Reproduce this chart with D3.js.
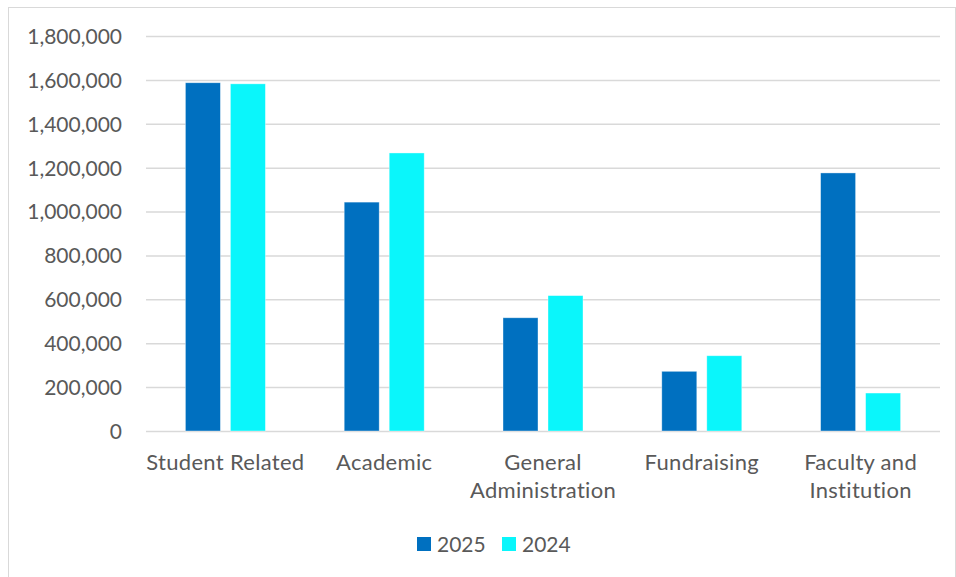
<!DOCTYPE html>
<html><head><meta charset="utf-8">
<script src="https://cdn.jsdelivr.net/npm/d3@7"></script>
<style>body{margin:0;background:#fff;} svg{display:block;} text{font-family:Lato,"Open Sans",sans-serif;fill:#595959;}</style>
</head><body><svg id="c" width="956" height="577"></svg>
<script>
const categories = ["Student Related","Academic","General Administration","Fundraising","Faculty and Institution"];
const categoryLines = [["Student Related"],["Academic"],["General","Administration"],["Fundraising"],["Faculty and","Institution"]];
const seriesNames = ["2025","2024"];
const values2025 = [1587000,1043000,516000,272000,1176000];
const values2024 = [1582000,1267000,617000,343000,173000];
const yTicks = [0,200000,400000,600000,800000,1000000,1200000,1400000,1600000,1800000];
const colors = ["#0070C0","#0AF6FB"];

(function(){
const svg = d3.select("#c");
svg.append("rect").attr("x",8.5).attr("y",7.5).attr("width",947).attr("height",575)
  .attr("fill","none").attr("stroke","#d9d9d9").attr("stroke-width",1);

const pL=146, pR=940, pT=36, pB=431;
const FS = 22;
const x = d3.scaleBand().domain(categories).range([pL,pR]).paddingInner(0).paddingOuter(0);
const y = d3.scaleLinear().domain([0,1800000]).range([pB,pT]);
const fmt = d3.format(",");

const yAxis = d3.axisLeft(y).tickValues(yTicks).tickFormat(fmt).tickSize(-(pR-pL)).tickPadding(24);
const gy = svg.append("g").attr("transform",`translate(${pL},0)`).call(yAxis);
gy.select(".domain").remove();
gy.selectAll(".tick line").attr("stroke","#d9d9d9").attr("stroke-width",1.5);
gy.selectAll(".tick text").attr("font-size",21).attr("fill","#595959").attr("dy","0.35em")
  .style("font-family","Lato,'Open Sans',sans-serif");

const barW = 35, gap = 10;
const series = [values2025, values2024];
series.forEach((vals,si)=>{
  svg.append("g").selectAll("rect").data(categories).join("rect")
    .attr("x",(d,i)=> x(d)+x.bandwidth()/2 - (barW*2+gap)/2 + si*(barW+gap))
    .attr("y",(d,i)=> y(vals[i]))
    .attr("width",barW)
    .attr("height",(d,i)=> y(0)-y(vals[i]))
    .attr("fill",colors[si])
    .attr("stroke","#ffffff").attr("stroke-opacity",0.5).attr("stroke-width",0.75);
});

const xl = svg.append("g");
categories.forEach((c,i)=>{
  const t = xl.append("text").attr("x",x(c)+x.bandwidth()/2).attr("y",470)
    .attr("text-anchor","middle").attr("font-size",FS).style("letter-spacing","0.3px");
  categoryLines[i].forEach((ln,j)=>{
    t.append("tspan").attr("x",x(c)+x.bandwidth()/2).attr("dy", j===0?0:28).text(ln);
  });
});

const leg = svg.append("g");
const legX = [417,502];
seriesNames.forEach((s,i)=>{
  leg.append("rect").attr("x",legX[i]).attr("y",537).attr("width",14).attr("height",14).attr("fill",colors[i]);
  leg.append("text").attr("x",legX[i]+20).attr("y",552).attr("font-size",21).text(s);
});
})();
</script></body></html>
